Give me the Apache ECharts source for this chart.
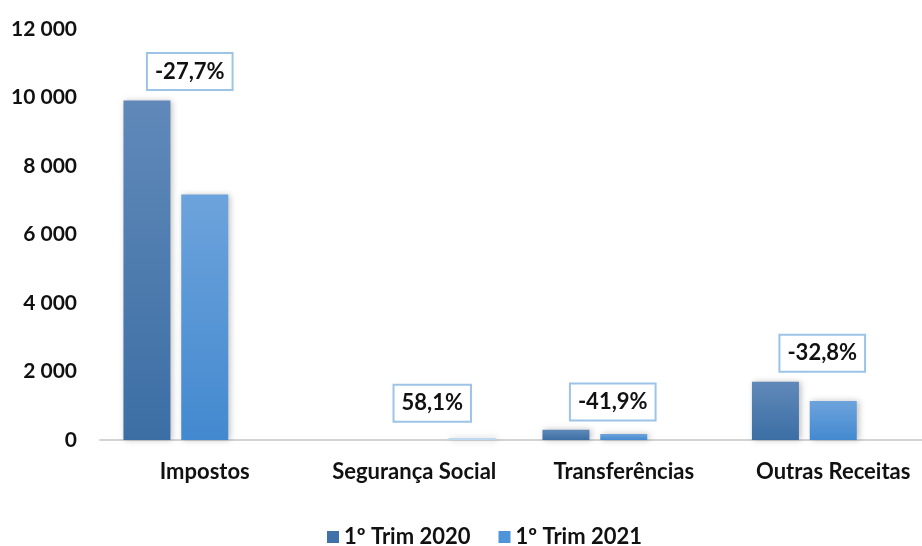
<!DOCTYPE html>
<html>
<head>
<meta charset="utf-8">
<script src="https://cdn.jsdelivr.net/npm/echarts@6/dist/echarts.min.js"></script>
<style>
html,body{margin:0;padding:0;background:#fff;}
#chart{width:922px;height:546px;}
</style>
</head>
<body>
<div id="chart"></div>
<script>
const categories = ['Impostos', 'Segurança Social', 'Transferências', 'Outras Receitas'];
const trim2020 = [9910, 0, 300, 1700];
const trim2021 = [7165, 0, 174, 1142];
// the Segurança Social 2021 bar sits in a third slot in the original chart
const segSocial2021 = [null, 55, null, null];
const changeLabels = ['-27,7%', '58,1%', '-41,9%', '-32,8%'];
const changeLabelLevel = [10760, 1070, 1110, 2530];
const changeLabelShift = [-15, 18, -11, -11];
const yTicks = [0, 2000, 4000, 6000, 8000, 10000, 12000];

const FONT = 'Lato';
const grad = (top, bottom) => new echarts.graphic.LinearGradient(0, 0, 0, 1, [
  {offset: 0, color: top}, {offset: 1, color: bottom}
]);
const c2020 = grad('#6089B9', '#3C6EA4');
const c2021 = grad('#6DA3DC', '#4389CF');
const shadow = {shadowBlur: 6, shadowColor: 'rgba(0,0,0,0.25)', shadowOffsetX: 2, shadowOffsetY: 0};

const chart = echarts.init(document.getElementById('chart'), null, {renderer: 'canvas'});
chart.setOption({
  animation: false,
  backgroundColor: '#fff',
  textStyle: {fontFamily: FONT},
  grid: {left: 100, top: 29, width: 838, height: 411, containLabel: false, outerBoundsMode: 'none'},
  legend: {
    data: [
      {name: '1º Trim 2020', itemStyle: {color: '#3F72A8'}},
      {name: '1º Trim 2021', itemStyle: {color: '#4F93D8'}}
    ],
    left: 322, top: 521,
    itemWidth: 12, itemHeight: 12, itemGap: 28,
    icon: 'rect',
    textStyle: {fontFamily: FONT, fontWeight: 'bold', fontSize: 22, color: '#111', padding: [0, 0, 0, 0]}
  },
  xAxis: {
    type: 'category',
    data: categories,
    axisLine: {lineStyle: {color: '#D3D3D3', width: 2}},
    axisTick: {show: false},
    axisLabel: {margin: 21, fontFamily: FONT, fontWeight: 'bold', fontSize: 22, color: '#111', interval: 0}
  },
  yAxis: {
    type: 'value',
    min: 0, max: 12000, interval: 2000,
    splitLine: {show: false},
    axisLine: {show: false},
    axisTick: {show: false},
    axisLabel: {
      margin: 23, fontFamily: FONT, fontWeight: 'bold', fontSize: 21, color: '#111',
      formatter: v => yTicks.includes(v) ? String(v).replace(/\B(?=(\d{3})+(?!\d))/g, ' ') : ''
    }
  },
  series: [
    {
      name: '1º Trim 2020', type: 'bar', data: trim2020,
      barWidth: 47, barGap: '23%',
      itemStyle: Object.assign({color: c2020}, shadow)
    },
    {
      name: '1º Trim 2021', type: 'bar', data: trim2021,
      barWidth: 47, barGap: '23%',
      itemStyle: Object.assign({color: c2021}, shadow)
    },
    {
      name: 'Segurança Social 2021', type: 'bar', data: segSocial2021,
      barWidth: 47, barGap: '23%',
      itemStyle: Object.assign({color: '#BFD7EF'}, shadow)
    },
    {
      name: 'variação', type: 'scatter', symbolSize: 0, silent: true,
      itemStyle: {opacity: 1},
      data: changeLabelLevel.map((v, i) => ({
        value: [i, v],
        label: {offset: [changeLabelShift[i], 0]}
      })),
      label: {
        show: true, position: 'inside', opacity: 1,
        formatter: p => changeLabels[p.dataIndex],
        fontFamily: FONT, fontWeight: 'bold', fontSize: 22, color: '#111',
        backgroundColor: '#fff', borderColor: '#9DC3E6', borderWidth: 2,
        padding: [7, 7, 6, 7]
      }
    }
  ]
});
</script>
</body>
</html>
